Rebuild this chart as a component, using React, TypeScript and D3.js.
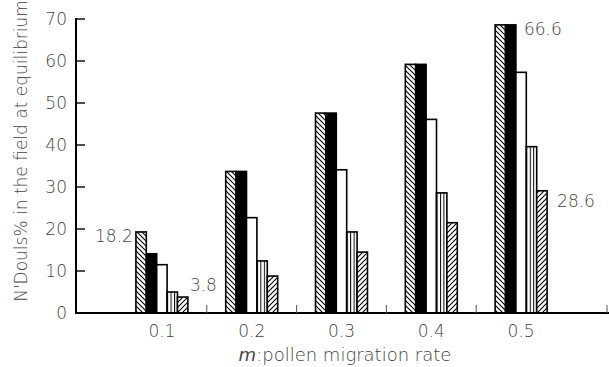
import React from "react";
import * as d3 from "d3";

const categories = ["0.1", "0.2", "0.3", "0.4", "0.5"];
const seriesKeys = ["hatchBack", "black", "white", "vertical", "hatchFwd"];
const hatchBack = [19.3, 33.7, 47.6, 59.2, 68.6];
const black = [14.1, 33.7, 47.6, 59.2, 68.6];
const white = [11.5, 22.7, 34.1, 46.1, 57.3];
const vertical = [5.0, 12.4, 19.3, 28.6, 39.6];
const hatchFwd = [3.8, 8.8, 14.5, 21.5, 29.1];
const yTicks = [0, 10, 20, 30, 40, 50, 60, 70];
const annotations = [
  { text: "18.2", series: 0, cat: 0 },
  { text: "3.8", series: 4, cat: 0 },
  { text: "66.6", series: 1, cat: 4 },
  { text: "28.6", series: 4, cat: 4 },
];

const W = 609;
const H = 367;
const FONT = "'DejaVu Sans', Verdana, sans-serif";
const TXT = "#444";
const FW = 300;

export default function App() {
  const values = [hatchBack, black, white, vertical, hatchFwd];
  const x = d3.scaleBand<string>().domain(categories).range([117, 566]).padding(0);
  const inner = d3
    .scaleBand<string>()
    .domain(seriesKeys)
    .range([0, x.bandwidth()])
    .paddingInner(0)
    .paddingOuter(1.82);
  const y = d3.scaleLinear().domain([0, 70]).range([313, 19]);
  const bw = inner.bandwidth();
  const axisX = 76;
  const fills = ["url(#hb)", "#000", "#fff", "url(#vl)", "url(#hf)"];

  const boundaryTicks = categories.slice(0, -1).map((c) => (x(c) as number) + x.bandwidth());
  boundaryTicks.push(607);

  const barX = (s: number, c: number) => (x(categories[c]) as number) + (inner(seriesKeys[s]) as number);

  const annPos = (a: { text: string; series: number; cat: number }) => {
    const bx = barX(a.series, a.cat);
    const top = y(values[a.series][a.cat]);
    if (a.text === "18.2") return { x: bx - 3, y: top + 10, anchor: "end" };
    if (a.text === "3.8") return { x: bx + bw + 2, y: top - 6, anchor: "start" };
    if (a.text === "66.6") return { x: bx + bw + 8, y: top + 10, anchor: "start" };
    return { x: bx + bw + 10, y: top + 16, anchor: "start" };
  };

  return (
    <svg
      width={W}
      height={H}
      style={{ position: "fixed", left: 0, top: 0, background: "#fff" }}
      fontFamily={FONT}
      fontWeight={FW}
    >
      <defs>
        <pattern id="hb" patternUnits="userSpaceOnUse" width="5" height="5">
          <rect width="5" height="5" fill="#fff" />
          <path d="M-1,-1 L6,6 M-1,4 L1,6 M4,-1 L6,1" stroke="#000" strokeWidth="1.1" />
        </pattern>
        <pattern id="hf" patternUnits="userSpaceOnUse" width="5" height="5">
          <rect width="5" height="5" fill="#fff" />
          <path d="M-1,6 L6,-1 M-1,1 L1,-1 M4,6 L6,4" stroke="#000" strokeWidth="1.1" />
        </pattern>
        <pattern id="vl" patternUnits="objectBoundingBox" width={1 / 3} height="1">
          <rect width={bw / 3} height="400" fill="#fff" />
          <line x1={0.5} x2={0.5} y1={0} y2={400} stroke="#000" strokeWidth="1" />
        </pattern>
      </defs>

      {/* bars */}
      {categories.map((c, ci) =>
        seriesKeys.map((s, si) => {
          const v = values[si][ci];
          return (
            <rect
              key={`${c}-${s}`}
              x={barX(si, ci)}
              y={y(v)}
              width={bw}
              height={y(0) - y(v)}
              fill={fills[si]}
              stroke="#000"
              strokeWidth={1.6}
            />
          );
        })
      )}

      {/* y axis */}
      <line x1={axisX} x2={axisX} y1={y(70) - 1} y2={y(0) + 1} stroke="#000" strokeWidth={2} />
      {yTicks.map((t) => (
        <g key={t}>
          <line x1={axisX} x2={axisX + 9} y1={y(t)} y2={y(t)} stroke="#000" strokeWidth={1.4} />
          <text
            x={67}
            y={y(t)}
            dy="0.36em"
            textAnchor="end"
            fontSize={17}
            fill={TXT}
          >
            {t}
          </text>
        </g>
      ))}

      {/* x axis */}
      <line x1={axisX - 1} x2={W} y1={y(0)} y2={y(0)} stroke="#000" strokeWidth={2} />
      {boundaryTicks.map((t, i) => (
        <line key={i} x1={t} x2={t} y1={y(0) - 8} y2={y(0)} stroke="#555" strokeWidth={1} />
      ))}
      {categories.map((c) => (
        <text
          key={c}
          x={(x(c) as number) + x.bandwidth() / 2}
          y={337}
          textAnchor="middle"
          fontSize={17}
          fill={TXT}
        >
          {c}
        </text>
      ))}
      <text x={345} y={361} textAnchor="middle" fontSize={18} fill={TXT}>
        <tspan fontStyle="italic">m</tspan>
        <tspan>:pollen migration rate</tspan>
      </text>

      <text
        transform={`translate(27,151) rotate(-90)`}
        textAnchor="middle"
        fontSize={17}
        fill={TXT}
      >
        N'Douls% in the field at equilibrium
      </text>

      {annotations.map((a) => {
        const p = annPos(a);
        return (
          <text key={a.text} x={p.x} y={p.y} textAnchor={p.anchor as any} fontSize={17} fill={TXT}>
            {a.text}
          </text>
        );
      })}
    </svg>
  );
}
